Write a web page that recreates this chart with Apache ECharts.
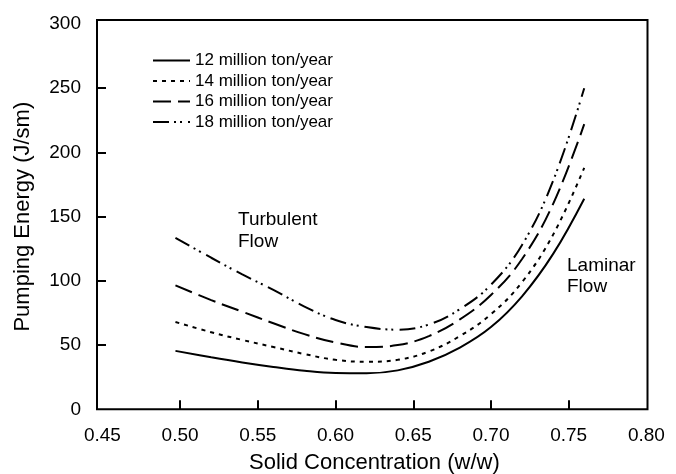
<!DOCTYPE html>
<html>
<head>
<meta charset="utf-8">
<script src="https://cdn.jsdelivr.net/npm/echarts@6/dist/echarts.min.js"></script>
<style>html,body{margin:0;padding:0;background:#fff;}#c{width:676px;height:474px;}</style>
</head>
<body>
<div id="c"></div>
<script>
// ---- data ----
const xValues = [0.497, 0.52, 0.54, 0.56, 0.58, 0.60, 0.62, 0.64, 0.66, 0.68, 0.70, 0.72, 0.74, 0.76];
const series12 = [45.5, 40.5, 36.5, 33, 30, 28.2, 28, 30.3, 37, 48, 64, 88, 121, 164];
const series14 = [68, 60, 54, 48.5, 43, 38.5, 37, 38.5, 45, 57, 74, 99, 136, 188];
const series16 = [96.5, 85, 76, 67, 58.5, 52, 48.5, 50, 57, 70, 89, 117, 160, 222];
const series18 = [133.5, 118, 105, 93, 80, 69.5, 64, 62, 66, 78, 97, 128, 178, 250];
const seriesNames = ['12 million ton/year', '14 million ton/year', '16 million ton/year', '18 million ton/year'];
const xTickLabels = [0.45, 0.50, 0.55, 0.60, 0.65, 0.70, 0.75, 0.80];
const yTickLabels = [0, 50, 100, 150, 200, 250, 300];
const xAxisTitle = 'Solid Concentration (w/w)';
const yAxisTitle = 'Pumping Energy (J/sm)';
const noteTurbulent = 'Turbulent\nFlow';
const noteLaminar = 'Laminar\nFlow';

const FONT = '"Liberation Sans", Arial, Helvetica, sans-serif';
const pair = (ys) => xValues.map((x, i) => [x, ys[i]]);
const dashes = ['solid', [4, 5], [18, 7], [16, 5, 2, 4, 2, 6]];
const allY = [series12, series14, series16, series18];

const chart = echarts.init(document.getElementById('c'), null, {renderer: 'canvas'});
chart.setOption({
  animation: false,
  backgroundColor: '#fff',
  textStyle: {fontFamily: FONT},
  grid: [
    {left: 97, right: 28.5, top: 20, bottom: 64.7, show: true, borderColor: '#000', borderWidth: 2,
     backgroundColor: 'transparent', containLabel: false, outerBoundsMode: 'none'},
    {left: 102.4, right: 29.6, top: 24, bottom: 64.7, containLabel: false, outerBoundsMode: 'none'}
  ],
  xAxis: [
    {gridIndex: 0, type: 'value', show: false, min: 0, max: 1},
    {
      gridIndex: 1, type: 'value', min: xTickLabels[0], max: xTickLabels[xTickLabels.length - 1], interval: 0.05,
      axisLine: {show: false}, splitLine: {show: false},
      axisTick: {show: true, inside: true, length: 9, lineStyle: {color: '#000', width: 2},
                 customValues: xTickLabels.slice(1, -1)},
      axisLabel: {color: '#000', fontSize: 19, fontFamily: FONT, margin: 17,
                  customValues: xTickLabels, formatter: (v) => v.toFixed(2)},
      name: xAxisTitle, nameLocation: 'middle', nameGap: 43,
      nameTextStyle: {color: '#000', fontSize: 22, fontFamily: FONT}
    }
  ],
  yAxis: [
    {gridIndex: 0, type: 'value', show: false, min: 0, max: 1},
    {
      gridIndex: 1, type: 'value', min: yTickLabels[0], max: yTickLabels[yTickLabels.length - 1], interval: 50,
      offset: 5.4,
      axisLine: {show: false}, splitLine: {show: false},
      axisTick: {show: true, inside: true, length: 9, lineStyle: {color: '#000', width: 2},
                 customValues: yTickLabels.slice(1, -1)},
      axisLabel: {color: '#000', fontSize: 19, fontFamily: FONT, margin: 16, customValues: yTickLabels},
      name: yAxisTitle, nameLocation: 'middle', nameGap: 63,
      nameTextStyle: {color: '#000', fontSize: 22, fontFamily: FONT}
    }
  ],
  legend: {
    orient: 'vertical', left: 147, top: 47,
    itemWidth: 37, itemHeight: 14, itemGap: 3.5,
    itemStyle: {opacity: 0, color: 'rgba(0,0,0,0)', borderWidth: 0},
    textStyle: {color: '#000', fontSize: 17, fontFamily: FONT, lineHeight: 17},
    data: seriesNames
  },
  series: seriesNames.map((name, i) => ({
    name, type: 'line', xAxisIndex: 1, yAxisIndex: 1,
    data: pair(allY[i]), smooth: 0.4, symbol: 'none',
    lineStyle: {color: '#000', width: 2, type: dashes[i]},
    itemStyle: {color: 'rgba(0,0,0,0)'}
  })),
  graphic: [
    {type: 'text', left: 238, top: 209, style: {text: noteTurbulent, font: '19px ' + FONT, fill: '#000', lineHeight: 22}},
    {type: 'text', left: 567, top: 255, style: {text: noteLaminar, font: '19px ' + FONT, fill: '#000', lineHeight: 21}}
  ]
});
</script>
</body>
</html>
